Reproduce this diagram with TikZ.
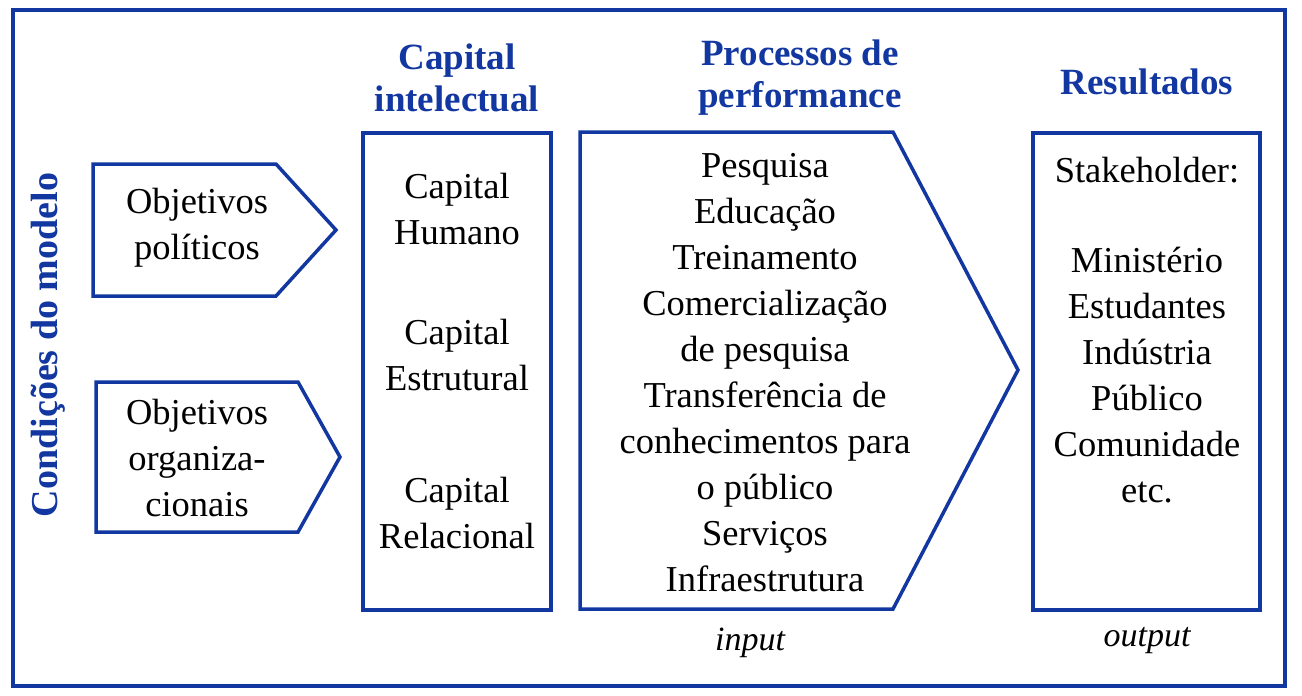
\documentclass[tikz,border=0pt]{standalone}
\usepackage{fontspec}
\setmainfont{Liberation Serif}
\definecolor{frameblue}{RGB}{18,55,160}
\begin{document}
\begin{tikzpicture}[x=1pt,y=-1pt,
  shapeline/.style={draw=frameblue,line width=3.5pt,line join=miter},
  bodytext/.style={align=center,font=\fontsize{36.5}{46}\selectfont,inner sep=0pt},
  titletext/.style={align=center,text=frameblue,font=\fontsize{37}{42}\selectfont\bfseries,inner sep=0pt},
  smalltext/.style={font=\fontsize{34}{36}\selectfont\itshape,inner sep=0pt}]
\useasboundingbox (0,0) rectangle (1302,696);
% outer frame
\draw[shapeline,line width=4pt] (13,10) rectangle (1285,686);
% pentagons
\draw[shapeline] (93,164) -- (276,164) -- (336,230) -- (276,296) -- (93,296) -- cycle;
\draw[shapeline] (96,382) -- (298,382) -- (340,457) -- (298,532) -- (96,532) -- cycle;
% capital box
\draw[shapeline] (363,133) rectangle (551,610);
% processes arrow
\draw[shapeline] (580,132) -- (893,132) -- (1018,370) -- (893,609) -- (580,609) -- cycle;
% results box
\draw[shapeline] (1033,133) rectangle (1260,610);
% titles
\node[titletext] (tcap) at (457,78) {Capital\\intelectual};
\node[titletext] (tproc) at (800,78) {Processos de\\performance};
\node[titletext] (tres) at (1147,82) {Resultados};
\node[titletext,font=\fontsize{38}{42}\selectfont\bfseries,rotate=90] (tcond) at (48,345) {Condições do modelo};
% texts
\node[bodytext] (op) at (197,228) {Objetivos\\políticos};
\node[bodytext] (oo) at (197,458) {Objetivos\\organiza-\\cionais};
\node[bodytext] (ch) at (457,209) {Capital\\Humano};
\node[bodytext] (ce) at (457,355) {Capital\\Estrutural};
\node[bodytext] (cr) at (457,513) {Capital\\Relacional};
\node[bodytext] (pl) at (765,373) {Pesquisa\\Educação\\Treinamento\\Comercialização\\de pesquisa\\Transferência de\\conhecimentos para\\o público\\Serviços\\Infraestrutura};
\node[bodytext] (rs) at (1147,170) {Stakeholder:};
\node[bodytext] (rl) at (1147,375) {Ministério\\Estudantes\\Indústria\\Público\\Comunidade\\etc.};
\node[smalltext] (in) at (750,643) {input};
\node[smalltext] (out) at (1147,641) {output};
\end{tikzpicture}
\end{document}
